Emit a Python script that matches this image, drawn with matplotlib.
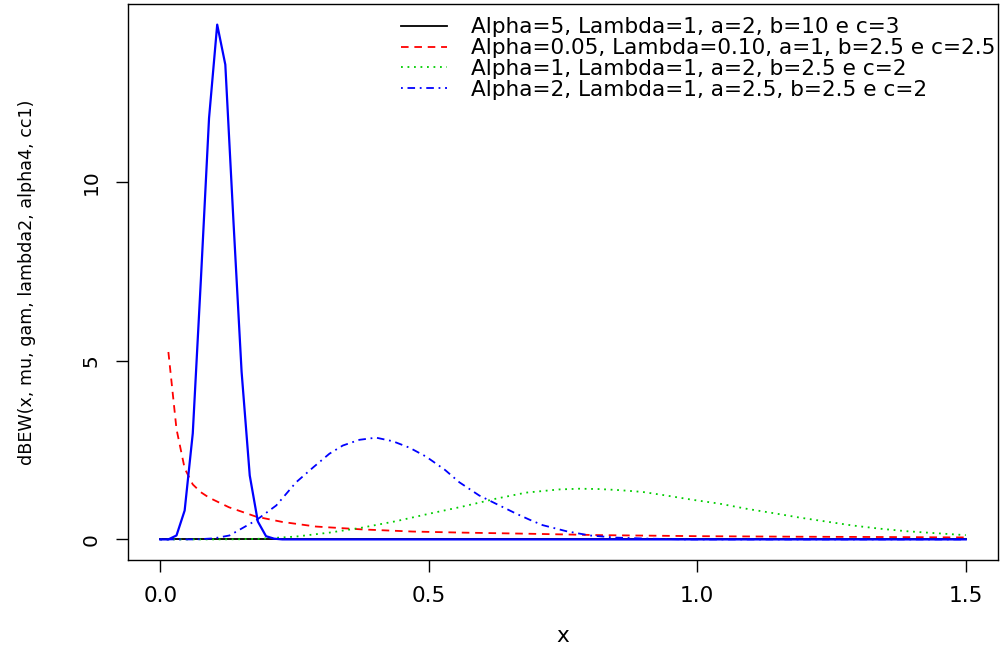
import matplotlib
matplotlib.use("Agg")
import matplotlib.pyplot as plt

plt.rcParams['font.family'] = ['DejaVu Sans']

# ---- data ----
legend_labels = [
    "Alpha=5, Lambda=1, a=2, b=10 e c=3",
    "Alpha=0.05, Lambda=0.10, a=1, b=2.5 e c=2.5",
    "Alpha=1, Lambda=1, a=2, b=2.5 e c=2",
    "Alpha=2, Lambda=1, a=2.5, b=2.5 e c=2",
]

# black solid (Alpha=5 ...), flat at zero, hidden under the blue solid curve
x_black = [0.0, 0.5, 1.0, 1.5]
y_black = [0.0, 0.0, 0.0, 0.0]

# red dashed
x_red = [0.0152, 0.0303, 0.0455, 0.0606, 0.0758, 0.0909, 0.128, 0.178, 0.227,
         0.290, 0.376, 0.470, 0.563, 0.681, 0.818, 1.004, 1.191, 1.377, 1.5]
y_red = [5.25, 3.09, 1.99, 1.54, 1.32, 1.17, 0.90, 0.64, 0.49,
         0.36, 0.28, 0.22, 0.19, 0.16, 0.12, 0.09, 0.075, 0.065, 0.055]

# green dotted
x_green = [0.0, 0.05, 0.10, 0.15, 0.19, 0.253, 0.315, 0.376, 0.439, 0.501, 0.563,
           0.625, 0.681, 0.743, 0.781, 0.818, 0.855, 0.898, 0.942, 0.991, 1.042,
           1.091, 1.140, 1.191, 1.240, 1.289, 1.340, 1.389, 1.438, 1.489, 1.5]
y_green = [0.0, 0.0, 0.001, 0.005, 0.02, 0.08, 0.19, 0.33, 0.51, 0.72, 0.92,
           1.14, 1.31, 1.40, 1.42, 1.41, 1.38, 1.33, 1.23, 1.11, 1.00,
           0.86, 0.74, 0.61, 0.50, 0.39, 0.30, 0.23, 0.18, 0.13, 0.12]

# blue dash-dot
x_dd = [0.0, 0.067, 0.10, 0.129, 0.178, 0.216, 0.253, 0.285, 0.315, 0.340, 0.371,
        0.402, 0.433, 0.464, 0.495, 0.53, 0.557, 0.594, 0.625, 0.663, 0.688,
        0.712, 0.756, 0.80, 0.849, 0.911, 0.98, 1.5]
y_dd = [0.0, 0.0, 0.03, 0.11, 0.53, 0.95, 1.6, 2.02, 2.40, 2.63, 2.79,
        2.85, 2.75, 2.57, 2.32, 1.95, 1.6, 1.23, 1.0, 0.72, 0.55,
        0.40, 0.23, 0.11, 0.05, 0.02, 0.0, 0.0]

# blue solid (sharp peak)
x_peak = [0.0, 0.0152, 0.0303, 0.0455, 0.0606, 0.0758, 0.0909, 0.1061, 0.1212,
          0.1364, 0.1515, 0.1667, 0.1818, 0.1970, 0.2121, 0.2273, 1.5]
y_peak = [0.0, 0.0, 0.11, 0.81, 2.97, 7.3, 11.8, 14.42, 13.3,
          8.9, 4.7, 1.79, 0.50, 0.09, 0.02, 0.0, 0.0]

x_ticks = [0.0, 0.5, 1.0, 1.5]
x_ticklabels = ["0.0", "0.5", "1.0", "1.5"]
y_ticks = [0, 5, 10]
y_ticklabels = ["0", "5", "10"]

# ---- figure ----
fig = plt.figure(figsize=(10, 6.48), dpi=100)
ax = fig.add_axes([0.128, 0.1358, 0.870, 0.858])

l1, = ax.plot(x_black, y_black, color='black', lw=1.3)
l2, = ax.plot(x_red, y_red, color='#FF0000', lw=1.3, linestyle=(0, (4.2, 3.2)))
l3, = ax.plot(x_green, y_green, color='#00CD00', lw=1.3, linestyle=(0, (1, 2.6)))
l4, = ax.plot(x_dd, y_dd, color='#0000FF', lw=1.3, linestyle=(0, (1, 2.6, 4.2, 2.6)))
ax.plot(x_peak, y_peak, color='#0000FF', lw=1.6)

ax.set_xlim(-0.06, 1.56)
ax.set_ylim(-0.577, 14.997)

ax.set_xticks(x_ticks)
ax.set_xticklabels(x_ticklabels)
ax.set_yticks(y_ticks)
ax.set_yticklabels(y_ticklabels, rotation=90, va='center')

ax.tick_params(axis='both', direction='out', length=8.6, width=1.0, color='black')
ax.tick_params(axis='x', labelsize=15.6, pad=10.4)
ax.tick_params(axis='y', labelsize=14.5, pad=11)

for s in ax.spines.values():
    s.set_linewidth(1.0)
    s.set_color('black')

ax.set_xlabel("x", fontsize=15.6)
ax.xaxis.set_label_coords(0.5, -0.119)
ax.set_ylabel("dBEW(x, mu, gam, lambda2, alpha4, cc1)", fontsize=12.6)
ax.yaxis.set_label_coords(-0.106, 0.5)

ax.legend([l1, l2, l3, l4], legend_labels, loc='upper left',
          bbox_to_anchor=(0.3138, 0.976), frameon=False, fontsize=15.6,
          handlelength=2.12, handletextpad=1.1, labelspacing=0.035,
          borderpad=0, borderaxespad=0)

fig.savefig("out.png", dpi=100)
